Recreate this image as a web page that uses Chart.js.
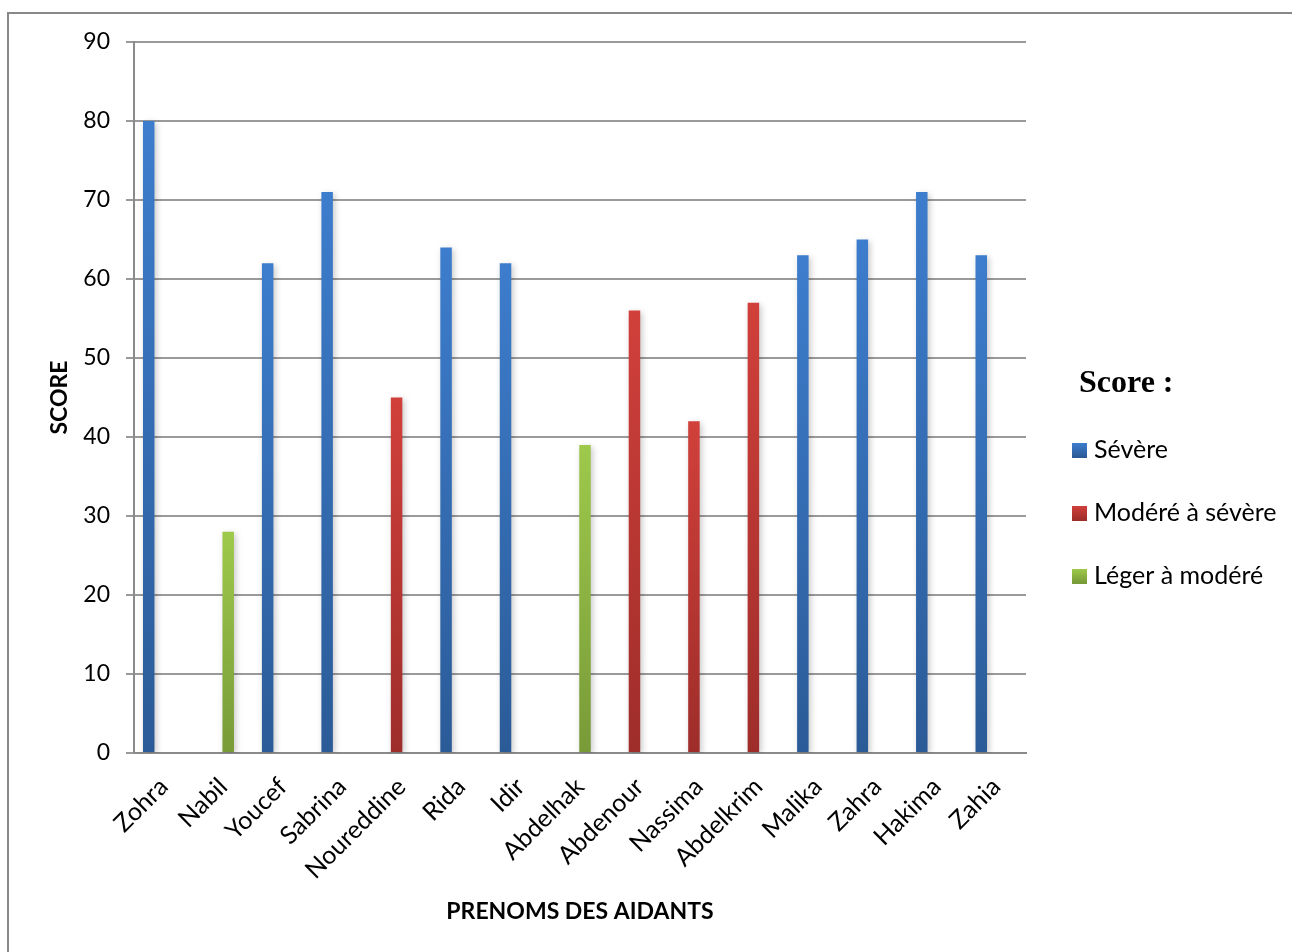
<!DOCTYPE html>
<html>
<head>
<meta charset="utf-8">
<script src="https://cdn.jsdelivr.net/npm/chart.js@4"></script>
<style>
  html, body { margin: 0; padding: 0; background: #ffffff; }
  #wrap { position: relative; width: 1292px; height: 952px; overflow: hidden; }
  #frame { position: absolute; left: 7px; top: 12px; width: 1400px; height: 1100px;
           border-left: 2px solid #888888; border-top: 2px solid #888888; }
  canvas { position: absolute; left: 0; top: 0; }
</style>
</head>
<body>
<div id="wrap">
  <div id="frame"></div>
  <canvas id="c" width="1292" height="952"></canvas>
</div>
<script>
const categories = ['Zohra','Nabil','Youcef','Sabrina','Noureddine','Rida','Idir','Abdelhak','Abdenour','Nassima','Abdelkrim','Malika','Zahra','Hakima','Zahia'];
const severe         = [80, null, 62, 71, null, 64, 62, null, null, null, null, 63, 65, 71, 63];
const moderateSevere = [null, null, null, null, 45, null, null, null, 56, 42, 57, null, null, null, null];
const mildModerate   = [null, 28, null, null, null, null, null, 39, null, null, null, null, null, null, null];
const spacer         = categories.map(() => null);
const seriesLabels = ['Sévère', 'Modéré à sévère', 'Léger à modéré'];
const yMin = 0, yMax = 90, yStep = 10;

const palette = [
  ['#3d7dcd', '#2b5b97'],
  ['#d1403b', '#9e2d2a'],
  ['#9ec94b', '#789a38']
];

function grad(top, bottom) {
  return (ctx) => {
    const chart = ctx.chart;
    const area = chart.chartArea;
    if (!area || ctx.raw == null) return bottom;
    const y = chart.scales.y.getPixelForValue(ctx.raw);
    const g = chart.ctx.createLinearGradient(0, y, 0, area.bottom);
    g.addColorStop(0, top);
    g.addColorStop(1, bottom);
    return g;
  };
}

const shadowPlugin = {
  id: 'barShadow',
  beforeDatasetsDraw(chart) {
    const c = chart.ctx;
    c.save();
    c.shadowColor = 'rgba(0,0,0,0.22)';
    c.shadowBlur = 6;
    c.shadowOffsetX = 2;
    c.shadowOffsetY = 2;
  },
  afterDatasetsDraw(chart) {
    chart.ctx.restore();
  }
};

const legendPlugin = {
  id: 'sideLegend',
  afterDraw(chart) {
    const c = chart.ctx;
    const area = chart.chartArea;
    const x0 = area.right + 46;
    c.save();
    c.fillStyle = '#000';
    c.textBaseline = 'middle';
    c.textAlign = 'left';
    c.font = 'bold 32px "Liberation Serif", "Times New Roman", serif';
    c.fillText('Score :', x0 + 7, 384);
    c.font = '25px Lato, "Noto Sans", sans-serif';
    seriesLabels.forEach((lab, i) => {
      const y = 450 + i * 63;
      const g = c.createLinearGradient(0, y - 7, 0, y + 7);
      g.addColorStop(0, palette[i][0]);
      g.addColorStop(1, palette[i][1]);
      c.fillStyle = g;
      c.fillRect(x0, y - 7, 15, 15);
      c.fillStyle = '#000';
      c.fillText(lab, x0 + 22, y);
    });
    c.restore();
  }
};

const fam = 'Lato, "Noto Sans", sans-serif';

new Chart(document.getElementById('c'), {
  type: 'bar',
  data: {
    labels: categories,
    datasets: [
      { label: seriesLabels[0], data: severe, backgroundColor: grad(...palette[0]) },
      { label: seriesLabels[1], data: moderateSevere, backgroundColor: grad(...palette[1]) },
      { label: seriesLabels[2], data: mildModerate, backgroundColor: grad(...palette[2]) },
      { label: '', data: spacer, backgroundColor: 'rgba(0,0,0,0)' }
    ]
  },
  options: {
    responsive: false,
    animation: false,
    devicePixelRatio: 1,
    categoryPercentage: 0.6726,
    barPercentage: 1.15,
    layout: { padding: { top: 42, right: 266, bottom: 0, left: 0 } },
    plugins: {
      legend: { display: false },
      tooltip: { enabled: false }
    },
    scales: {
      x: {
        grid: { display: false, drawTicks: false },
        border: { display: true, color: '#8a8a8a', width: 2 },
        ticks: {
          color: '#000',
          font: { family: fam, size: 25 },
          maxRotation: 45,
          minRotation: 45,
          autoSkip: false,
          padding: 19
        },
        title: {
          display: true,
          text: 'PRENOMS DES AIDANTS',
          color: '#000',
          font: { family: fam, size: 23, weight: 'bold' },
          padding: { top: 0, bottom: 27 }
        },
        afterFit(scale) { scale.height = 199; }
      },
      y: {
        min: yMin,
        max: yMax,
        ticks: { stepSize: yStep, color: '#000', font: { family: fam, size: 23 }, padding: 16 },
        grid: { color: '#9a9a9a', lineWidth: 2, tickLength: 8, drawTicks: true },
        border: { display: true, color: '#8a8a8a', width: 2 },
        title: {
          display: true,
          text: 'SCORE',
          color: '#000',
          font: { family: fam, size: 23, weight: 'bold' },
          padding: { top: 46, bottom: 0 }
        },
        afterFit(scale) { scale.width = 134; }
      }
    }
  },
  plugins: [shadowPlugin, legendPlugin]
});
</script>
</body>
</html>
